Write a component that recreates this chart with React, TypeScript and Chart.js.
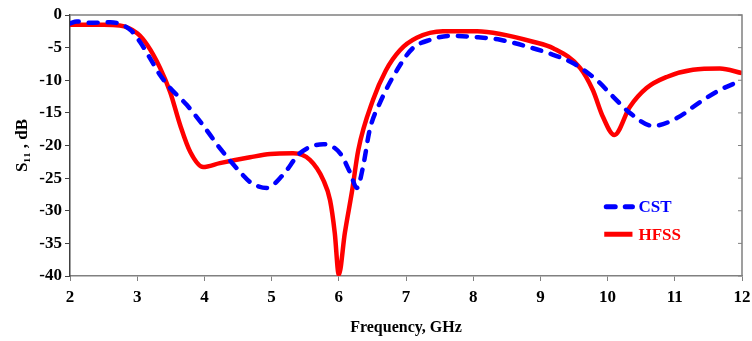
import React, { useEffect, useRef } from "react";
import { Chart, registerables } from "chart.js";

Chart.register(...registerables);

const freqHFSS = [2, 2.5, 2.74, 3.0, 3.15, 3.34, 3.49, 3.64, 3.79, 3.98, 4.23, 4.68, 4.98, 5.32, 5.57, 5.77, 5.87, 5.94, 6.0, 6.09, 6.2, 6.29, 6.51, 6.7, 6.91, 7.16, 7.55, 8.06, 8.4, 8.89, 9.19, 9.59, 9.78, 9.93, 10.1, 10.33, 10.58, 10.88, 11.27, 11.67, 12];
const s11HFSS = [-1.5, -1.5, -1.6, -2.8, -4.6, -8.1, -11.8, -16.9, -21, -23.3, -22.7, -21.8, -21.3, -21.2, -22.2, -25.3, -28.4, -33.4, -39.8, -33.4, -26.8, -20.7, -13, -8.5, -5.4, -3.5, -2.5, -2.5, -2.9, -4.1, -5.1, -8.1, -11.5, -15.6, -18.4, -14.1, -11.2, -9.5, -8.4, -8.2, -8.9];

const freqCST = [2, 2.1, 2.3, 2.6, 2.9, 3.04, 3.19, 3.34, 3.49, 3.74, 3.98, 4.23, 4.57, 4.68, 4.93, 5.17, 5.42, 5.77, 6.02, 6.17, 6.27, 6.36, 6.46, 6.61, 6.91, 7.1, 7.36, 7.65, 8.06, 8.4, 8.89, 9.19, 9.49, 9.84, 10.08, 10.33, 10.68, 11.03, 11.38, 11.67, 12];
const s11CST = [-1.3, -1.0, -1.2, -1.1, -2.3, -4.1, -6.6, -9.2, -11.2, -13.8, -16.9, -20.4, -24.5, -25.6, -26.5, -24.5, -21.2, -19.8, -21.2, -24.2, -26.5, -23.3, -17.6, -13.5, -7.7, -5.1, -3.8, -3.2, -3.4, -3.8, -5.1, -6.1, -7.4, -10, -12.5, -15, -17, -15.8, -13.3, -11.5, -10];

const seriesLabels = ["CST", "HFSS"];
const seriesColors = ["#0000ff", "#ff0000"];

const FONT = "'Liberation Serif', 'Times New Roman', serif";

const framePlugin = {
  id: "frame",
  afterDraw(chart: any) {
    const { ctx, chartArea } = chart;
    ctx.save();
    ctx.strokeStyle = "#808080";
    ctx.lineWidth = 1.5;
    ctx.beginPath();
    ctx.moveTo(chartArea.left, chartArea.top);
    ctx.lineTo(chartArea.right, chartArea.top);
    ctx.lineTo(chartArea.right, chartArea.bottom);
    ctx.stroke();
    const y = chart.scales.y;
    ctx.lineWidth = 1;
    y.ticks.forEach((t: any) => {
      const py = y.getPixelForValue(t.value);
      ctx.beginPath();
      ctx.moveTo(chartArea.right - 4, py);
      ctx.lineTo(chartArea.right, py);
      ctx.stroke();
    });
    ctx.restore();
  },
};

const legendPlugin = {
  id: "customLegend",
  afterDraw(chart: any) {
    const { ctx } = chart;
    const x = chart.scales.x;
    const y = chart.scales.y;
    const x0 = x.getPixelForValue(9.95);
    const x1 = x.getPixelForValue(10.37);
    const rows = [y.getPixelForValue(-29.4), y.getPixelForValue(-33.6)];
    chart.data.datasets.forEach((ds: any, i: number) => {
      const py = rows[i];
      ctx.save();
      ctx.strokeStyle = ds.borderColor;
      ctx.lineWidth = 5;
      ctx.lineCap = ds.borderDash && ds.borderDash.length ? "round" : "butt";
      ctx.setLineDash(ds.borderDash || []);
      ctx.beginPath();
      ctx.moveTo(x0 + (i === 0 ? 2 : 0), py);
      ctx.lineTo(x1, py);
      ctx.stroke();
      ctx.setLineDash([]);
      ctx.fillStyle = ds.borderColor;
      ctx.font = `bold 17px ${FONT}`;
      ctx.textBaseline = "middle";
      ctx.textAlign = "left";
      ctx.fillText(ds.label, x1 + 6, py + 1);
      ctx.restore();
    });
  },
};

export default function App() {
  const ref = useRef<HTMLCanvasElement | null>(null);
  useEffect(() => {
    document.body.style.margin = "0";
    const canvas = ref.current;
    if (!canvas) return;
    const chart = new Chart(canvas, {
      type: "line",
      data: {
        datasets: [
          {
            label: seriesLabels[0],
            data: freqCST.map((f, i) => ({ x: f, y: s11CST[i] })),
            borderColor: seriesColors[0],
            borderWidth: 4.5,
            borderDash: [9, 10],
            borderCapStyle: "round",
            pointRadius: 0,
            cubicInterpolationMode: "monotone",
            fill: false,
          },
          {
            label: seriesLabels[1],
            data: freqHFSS.map((f, i) => ({ x: f, y: s11HFSS[i] })),
            borderColor: seriesColors[1],
            borderWidth: 4.5,
            pointRadius: 0,
            cubicInterpolationMode: "monotone",
            fill: false,
          },
        ],
      },
      options: {
        responsive: false,
        animation: false,
        layout: { padding: { top: 15, right: 10, left: 0, bottom: 0 } },
        plugins: { legend: { display: false }, tooltip: { enabled: false } },
        scales: {
          x: {
            type: "linear",
            min: 2,
            max: 12,
            afterFit: (s: any) => {
              s.height = 65;
              s.paddingLeft = 0;
              s.paddingRight = 0;
            },
            ticks: {
              stepSize: 1,
              color: "#000",
              font: { family: FONT, size: 17, weight: "bold" },
              padding: 6,
            },
            grid: { drawOnChartArea: false, tickLength: 5, color: "#808080" },
            border: { color: "#808080", width: 1.5 },
            title: {
              display: true,
              text: "Frequency, GHz",
              color: "#000",
              font: { family: FONT, size: 16, weight: "bold" },
              padding: { top: 4, bottom: 4 },
            },
          },
          y: {
            min: -40,
            max: 0,
            afterFit: (s: any) => {
              s.width = 70;
              s.paddingTop = 0;
              s.paddingBottom = 0;
            },
            ticks: {
              stepSize: 5,
              color: "#000",
              font: { family: FONT, size: 17, weight: "bold" },
              padding: 3,
            },
            grid: { drawOnChartArea: false, tickLength: 5, color: "#404040" },
            border: { color: "#404040", width: 1.5 },
            title: {
              display: true,
              text: "S\u2081\u2081 , dB",
              color: "#000",
              font: { family: FONT, size: 17, weight: "bold" },
              padding: { top: 12, bottom: 0 },
            },
          },
        },
      },
      plugins: [framePlugin, legendPlugin],
    } as any);
    return () => chart.destroy();
  }, []);
  return (
    <div style={{ width: 752, height: 341 }}>
      <canvas ref={ref} width={752} height={341} style={{ display: "block" }} />
    </div>
  );
}
